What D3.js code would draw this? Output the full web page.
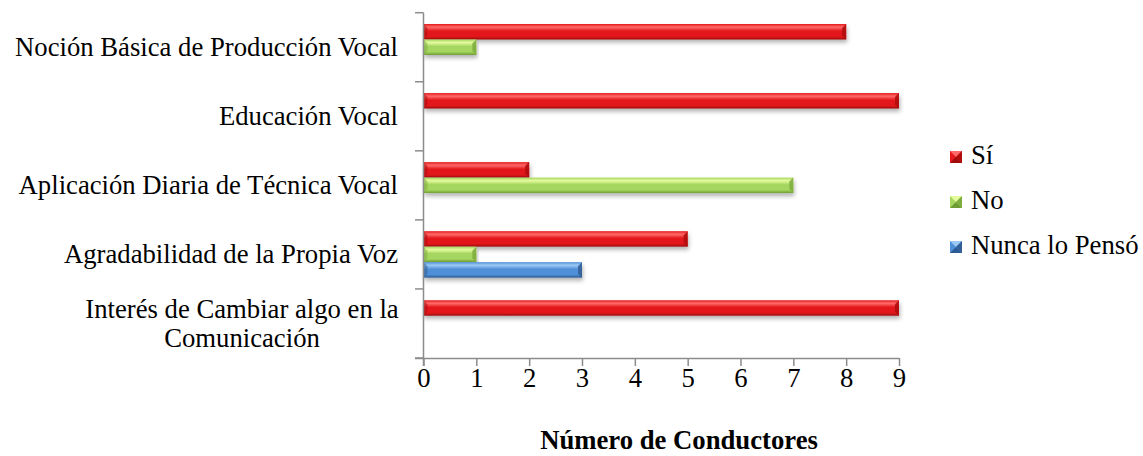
<!DOCTYPE html>
<html>
<head>
<meta charset="utf-8">
<script src="https://cdn.jsdelivr.net/npm/d3@7"></script>
<style>
  body { margin: 0; background: #fff; }
  svg text { font-family: 'Liberation Serif', 'Times New Roman', Tinos, 'DejaVu Serif', serif; fill: #000; }
</style>
</head>
<body>
<svg id="chart" width="1143" height="456"></svg>
<script>
var categories = [
  "Noción Básica de Producción Vocal",
  "Educación Vocal",
  "Aplicación Diaria de Técnica Vocal",
  "Agradabilidad de la Propia Voz",
  "Interés de Cambiar algo en la Comunicación"
]
var seriesNames = ["Sí", "No", "Nunca lo Pensó"]
var siValues = [8, 9, 2, 5, 9]
var noValues = [1, 0, 7, 1, 0]
var nuncaValues = [0, 0, 0, 3, 0]
var xTicks = [0, 1, 2, 3, 4, 5, 6, 7, 8, 9]
var xTitle = "Número de Conductores"

var seriesValues = [siValues, noValues, nuncaValues]
var palette = [
  {top: "#ff6a6a", mid: "#e3191b", bot: "#9e0c0c", end: "#b00d0d"},
  {top: "#e6fba0", mid: "#a5d65e", bot: "#6e9a34", end: "#7fae3e"},
  {top: "#9ccaf4", mid: "#4f8fd8", bot: "#2c5a94", end: "#335f96"}
]
var fs = "26.7px"
var serif = "'Liberation Serif', 'Times New Roman', Tinos, 'DejaVu Serif', serif"

var svg = d3.select("#chart")

var x = d3.scaleLinear().domain([0, 9]).range([423.5, 899])
var y = d3.scaleBand().domain(categories).range([12.7, 358]).paddingInner(0)
var yInner = d3.scaleBand().domain(seriesNames)
    .range([11.3, y.bandwidth() - 11.3]).paddingInner(0)

var defs = svg.append("defs")
palette.forEach(function(p, i) {
    var g = defs.append("linearGradient")
	.attr("id", "grad" + i)
	.attr("x1", 0).attr("y1", 0).attr("x2", 0).attr("y2", 1)
    g.append("stop").attr("offset", "0%").attr("stop-color", p.mid)
    g.append("stop").attr("offset", "20%").attr("stop-color", p.top)
    g.append("stop").attr("offset", "45%").attr("stop-color", p.mid)
    g.append("stop").attr("offset", "80%").attr("stop-color", p.mid)
    g.append("stop").attr("offset", "100%").attr("stop-color", p.bot)
})
var shadow = defs.append("filter").attr("id", "shadow")
    .attr("x", "-5%").attr("y", "-30%").attr("width", "110%").attr("height", "180%")
shadow.append("feDropShadow")
    .attr("dx", 1).attr("dy", 3).attr("stdDeviation", 2)
    .attr("flood-color", "#000").attr("flood-opacity", 0.3)

// bars
var bars = []
categories.forEach(function(c, ci) {
    seriesNames.forEach(function(s, si) {
	var v = seriesValues[si][ci]
	if (v > 0) bars.push({cat: c, s: s, si: si, v: v})
    })
})

function bevelBar(g, x0, x1, y0, h, si) {
    var b = Math.min(4, (x1 - x0) / 2)
    var y1 = y0 + h
    var p = palette[si]
    g.append("rect")
	.attr("x", x0).attr("y", y0)
	.attr("width", x1 - x0).attr("height", h)
	.attr("fill", "url(#grad" + si + ")")
	.attr("filter", "url(#shadow)")
    g.append("polygon")
	.attr("points", [[x0, y0], [x0 + b, y0 + b], [x0 + b, y1 - b], [x0, y1]].join(" "))
	.attr("fill", p.end).attr("opacity", 0.55)
    g.append("polygon")
	.attr("points", [[x1, y0], [x1 - b, y0 + b], [x1 - b, y1 - b], [x1, y1]].join(" "))
	.attr("fill", p.end).attr("opacity", 0.9)
}

var barG = svg.append("g")
bars.forEach(function(d) {
    bevelBar(barG, x(0), x(d.v), y(d.cat) + yInner(d.s), yInner.bandwidth(), d.si)
})

// axes
var axisColor = "#8c8c8c"
var xAxis = svg.append("g")
    .attr("transform", "translate(0,358)")
    .call(d3.axisBottom(x).tickValues(xTicks).tickSize(8).tickPadding(2))
xAxis.attr("font-family", serif).attr("font-size", fs)
xAxis.select(".domain").attr("stroke", axisColor).attr("stroke-width", 1.5)
    .attr("d", "M415," + 0.5 + "H899")
xAxis.selectAll(".tick line").attr("stroke", axisColor).attr("stroke-width", 1.5)
xAxis.selectAll(".tick text").attr("fill", "#000")

var yAxisG = svg.append("g")
yAxisG.append("line")
    .attr("x1", 423.5).attr("x2", 423.5).attr("y1", 12.7).attr("y2", 366)
    .attr("stroke", axisColor).attr("stroke-width", 1.5)
var yEdges = categories.map(function(c) { return y(c) }).concat([358])
yAxisG.selectAll("line.tk").data(yEdges).enter().append("line")
    .attr("class", "tk")
    .attr("x1", 415).attr("x2", 423.5)
    .attr("y1", function(d) { return d }).attr("y2", function(d) { return d })
    .attr("stroke", axisColor).attr("stroke-width", 1.5)

// category labels
var labelLines = [
  ["Noción Básica de Producción Vocal"],
  ["Educación Vocal"],
  ["Aplicación Diaria de Técnica Vocal"],
  ["Agradabilidad de la Propia Voz"],
  ["Interés de Cambiar algo en la", "Comunicación"]
]
categories.forEach(function(c, i) {
    var lines = labelLines[i]
    var cy = y(c) + y.bandwidth() / 2
    var t = svg.append("text")
	.attr("font-family", serif)
	.attr("font-size", fs)
    lines.forEach(function(l, li) {
	t.append("tspan")
	    .attr("x", lines.length > 1 ? 242 : 398)
	    .attr("text-anchor", lines.length > 1 ? "middle" : "end")
	    .attr("y", cy + 9 + (li - (lines.length - 1) / 2) * 29)
	    .text(l)
    })
})

// x title
svg.append("text")
    .attr("x", 679).attr("y", 449)
    .attr("text-anchor", "middle")
    .attr("font-family", serif)
    .attr("font-size", fs).attr("font-weight", "bold")
    .text(xTitle)

// legend
var legend = svg.append("g")
seriesNames.forEach(function(s, i) {
    var ly = 157 + i * 45
    var lx = 950, sz = 12
    var p = palette[i]
    var cx = lx + sz / 2, cy = ly
    var y0 = ly - sz / 2, y1 = ly + sz / 2, x1 = lx + sz
    legend.append("rect").attr("x", lx).attr("y", y0).attr("width", sz).attr("height", sz)
	.attr("fill", p.mid)
    legend.append("polygon").attr("points", [[lx, y0], [x1, y0], [cx, cy]].join(" ")).attr("fill", p.top)
    legend.append("polygon").attr("points", [[lx, y1], [x1, y1], [cx, cy]].join(" ")).attr("fill", p.bot)
    legend.append("polygon").attr("points", [[x1, y0], [x1, y1], [cx, cy]].join(" ")).attr("fill", p.end)
    legend.append("text").attr("x", 971).attr("y", ly + 7)
	.attr("font-family", serif)
	.attr("font-size", fs).text(s)
})
</script>
</body>
</html>
